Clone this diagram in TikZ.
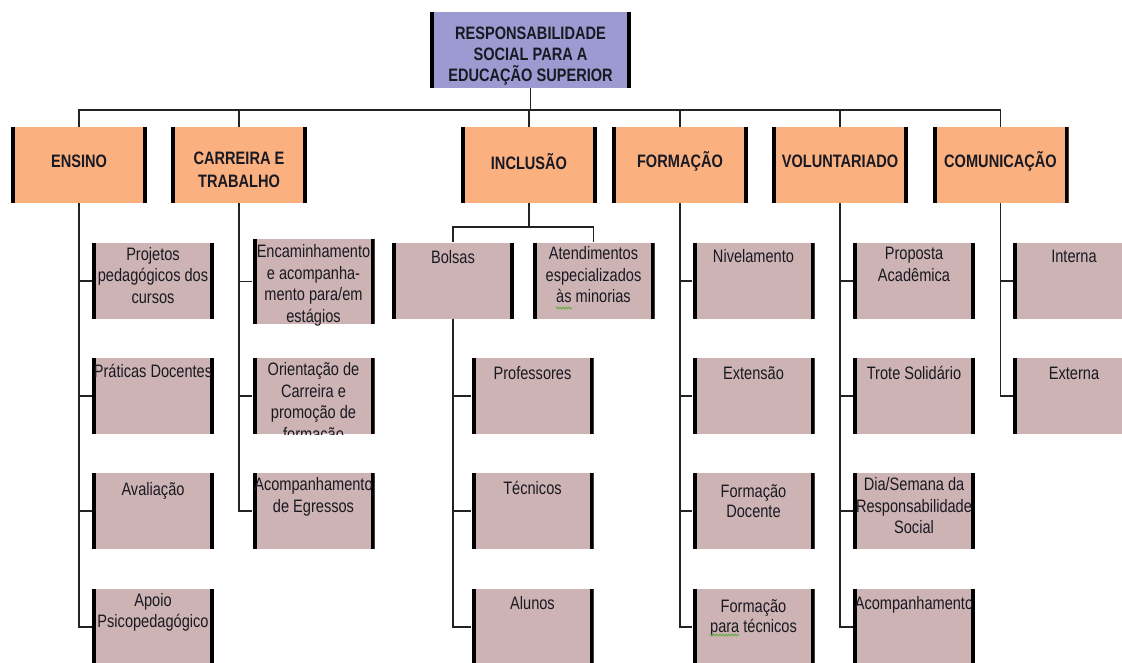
\documentclass[tikz,border=0pt]{standalone}
\usepackage{fontspec}
\setmainfont[FakeStretch=0.81]{Liberation Sans}
\usetikzlibrary{calc,decorations.pathmorphing}
\definecolor{lav}{RGB}{155,155,210}
\definecolor{peach}{RGB}{251,176,127}
\definecolor{mauve}{RGB}{205,179,179}
\definecolor{ln}{RGB}{35,35,35}
\definecolor{txt}{RGB}{25,25,35}
\definecolor{spell}{RGB}{90,170,60}
\tikzset{
 bars/.style={path picture={\draw[line width=4pt,black]
   ([xshift=2pt]path picture bounding box.north west) -- ([xshift=2pt]path picture bounding box.south west)
   ([xshift=-2pt]path picture bounding box.north east) -- ([xshift=-2pt]path picture bounding box.south east);}},
 rootbox/.style={bars, fill=lav, minimum width=201pt, minimum height=76pt, inner sep=0pt},
 roottext/.style={inner sep=0pt, align=center, font=\fontsize{18}{20.8}\selectfont\bfseries, text=txt},
 catbox/.style={bars, fill=peach, minimum width=136pt, minimum height=76pt, inner sep=0pt},
 cattext/.style={inner sep=0pt, align=center, font=\fontsize{18}{23.5}\selectfont\bfseries, text=txt},
 itembox/.style={bars, fill=mauve, minimum width=122pt, minimum height=76pt, inner sep=0pt},
 itemtext/.style={anchor=north, inner sep=0pt, align=center, font=\fontsize{18}{21.7}\selectfont, text=txt},
 conn/.style={draw=ln, line width=1.3pt},
 spellmark/.style={draw=spell, line width=0.8pt, decorate, decoration={snake, amplitude=0.9pt, segment length=3pt}}
}
% name, x, y_text, text
\newcommand{\catbx}[4]{%
  \node[catbox] (#1) at (#2,165) {};
  \node[cattext] (#1t) at (#2,#3) {#4};}
% [box opts], name, x, y, text dy, text
\newcommand{\itembx}[6][]{%
  \node[itembox,#1] (#2) at (#3,#4) {};
  \node[itemtext] (#2t) at ($(#2.north)+(0,#5)$) {\rule{0pt}{17pt}#6};}
\begin{document}
\begin{tikzpicture}[x=1pt,y=-1pt]
\useasboundingbox (0,0) rectangle (1122,662);
\clip (0,0) rectangle (1122,662);
\coordinate (bustop) at (0,110);
\coordinate (incbus) at (0,227);

% root
\node[rootbox] (root) at (530.5,50) {};
\node[roottext] (roott) at (530.5,56) {RESPONSABILIDADE\\SOCIAL PARA A\\EDUCAÇÃO SUPERIOR};

% categories
\catbx{ens}{79}{161.7}{ENSINO}
\catbx{car}{239}{170}{CARREIRA E\\TRABALHO}
\catbx{inc}{529}{161.7}{INCLUSÃO}
\catbx{for}{680}{161.7}{FORMAÇÃO}
\catbx{vol}{840}{161.7}{VOLUNTARIADO}
\catbx{com}{1000.5}{161.7}{COMUNICAÇÃO}

% ENSINO items
\itembx{e1}{153}{281}{0}{Projetos\\pedagógicos dos\\cursos}
\itembx{e2}{153}{396}{2.5}{Práticas Docentes}
\itembx{e3}{153}{511}{5.5}{Avaliação}
\itembx{e4}{153}{627}{0}{Apoio\\Psicopedagógico}

% CARREIRA items
\itembx[minimum height=85pt]{c1}{313.5}{281.5}{1.5}{Encaminhamento\\e acompanha-\\mento para/em\\estágios}
\node[itembox] (c2) at (313.5,396) {};
\begin{scope}
  \clip (c2.north west) rectangle (c2.south east);
  \node[itemtext] (c2t) at ($(c2.north)+(0,0.5)$) {\rule{0pt}{17pt}Orientação de\\Carreira e\\promoção de\\formação};
\end{scope}
\itembx{c3}{313.5}{511}{0.5}{Acompanhamento\\de Egressos}

% INCLUSAO items
\itembx{bol}{453}{280.5}{3.5}{Bolsas}
\itembx{ate}{593.5}{280.5}{0}{Atendimentos\\especializados\\às minorias}
\itembx{i1}{532.5}{396}{4}{Professores}
\itembx{i2}{532.5}{511}{4}{Técnicos}
\itembx{i3}{532.5}{627}{3}{Alunos}

% FORMACAO items
\itembx{f1}{753.5}{281}{2.5}{Nivelamento}
\itembx{f2}{753.5}{396}{4}{Extensão}
\itembx{f3}{753.5}{511}{7}{Formação\\[-1.7pt]Docente}
\itembx{f4}{753.5}{627}{6}{Formação\\[-1.7pt]para técnicos}

% VOLUNTARIADO items
\itembx{v1}{914}{281}{-0.5}{Proposta\\Acadêmica}
\itembx{v2}{914}{396}{4}{Trote Solidário}
\itembx{v3}{914}{511}{0.5}{Dia/Semana da\\Responsabilidade\\Social}
\itembx{v4}{914}{627}{3}{Acompanhamento}

% COMUNICACAO items
\itembx{m1}{1074}{281}{2.5}{Interna}
\itembx{m2}{1074}{396}{4}{Externa}

% connectors: root to categories
\foreach \c in {ens,car,inc,for,vol,com}
  \draw[conn] (root.south) -- (root.south |- bustop) -| (\c.north);

% category to items
\foreach \i in {e1,e2,e3,e4} \draw[conn] (ens.south) |- (\i.west);
\foreach \i in {c1,c2,c3} \draw[conn] (car.south) |- (\i.west);
\draw[conn] (inc.south) -- (inc.south |- incbus) -| (bol.north);
\draw[conn] (inc.south) -- (inc.south |- incbus) -| (ate.north);
\foreach \i in {i1,i2,i3} \draw[conn] (bol.south) |- (\i.west);
\foreach \i in {f1,f2,f3,f4} \draw[conn] (for.south) |- (\i.west);
\foreach \i in {v1,v2,v3,v4} \draw[conn] (vol.south) |- (\i.west);
\foreach \i in {m1,m2} \draw[conn] (com.south) |- (\i.west);

% spell-check marks
\draw[spellmark] (556,308) -- (572,308);
\draw[spellmark] (710,635) -- (739,635);
\end{tikzpicture}
\end{document}
